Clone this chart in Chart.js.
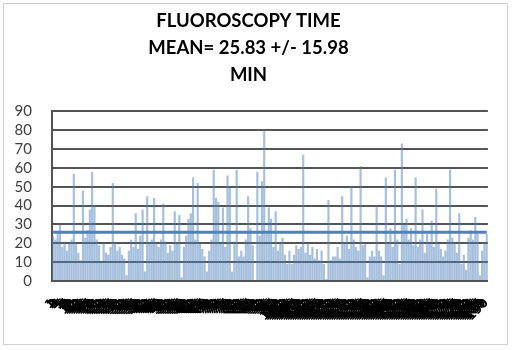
<!DOCTYPE html>
<html>
<head>
<meta charset="utf-8">
<script src="https://cdn.jsdelivr.net/npm/chart.js@4"></script>
<style>
  html, body { margin: 0; padding: 0; background: #fff; }
  #wrap { width: 512px; height: 350px; }
</style>
</head>
<body>
<div id="wrap"><canvas id="fluoroChart" width="512" height="350"></canvas></div>
<script>
// Fluoroscopy time per case (minutes)
const titleLines = ['FLUOROSCOPY TIME', 'MEAN= 25.83 +/- 15.98', 'MIN'];
const meanValue = 25.83;
const yTicks = [0, 10, 20, 30, 40, 50, 60, 70, 80, 90];
const fluoroTimes = [
    24, 22, 26, 30, 18, 21, 16, 20, 22, 57,
    20, 15, 11, 48, 23, 27, 38, 58, 40, 22,
    19, 10, 20, 15, 14, 18, 52, 20, 16, 18,
    14, 12, 3, 16, 22, 18, 36, 17, 24, 38,
    5, 45, 20, 22, 44, 20, 18, 22, 41, 21,
    15, 19, 16, 37, 20, 35, 2, 18, 24, 33,
    36, 55, 22, 52, 20, 17, 13, 5, 16, 22,
    59, 44, 42, 20, 39, 18, 56, 50, 5, 21,
    59, 13, 16, 13, 22, 45, 28, 19, 0, 58,
    24, 53, 80, 26, 39, 33, 18, 37, 16, 20,
    23, 14, 9, 16, 9, 14, 19, 17, 18, 67,
    15, 20, 14, 18, 12, 17, 11, 16, 9, 1,
    43, 11, 13, 13, 18, 12, 45, 20, 24, 17,
    50, 22, 18, 16, 61, 19, 20, 2, 13, 16,
    13, 40, 16, 13, 3, 55, 20, 28, 18, 59,
    22, 9, 73, 30, 33, 22, 28, 19, 55, 18,
    22, 38, 15, 25, 20, 32, 18, 49, 20, 17,
    13, 16, 22, 59, 23, 20, 15, 36, 9, 14,
    6, 23, 27, 22, 34, 25, 3, 16, 20, 25
];
const caseLabels = fluoroTimes.map((v, i) => String(i + 1));

const framePlugin = {
    id: 'frame',
    beforeDraw(chart) {
        const ctx = chart.ctx;
        ctx.save();
        ctx.fillStyle = '#ffffff';
        ctx.fillRect(0, 0, chart.width, chart.height);
        ctx.strokeStyle = '#d0d0d0';
        ctx.lineWidth = 1;
        ctx.strokeRect(3.5, 3.5, 504, 341);
        ctx.restore();
    }
};

document.addEventListener('DOMContentLoaded', function() {
    const ctx = document.getElementById('fluoroChart').getContext('2d');

    new Chart(ctx, {
        data: {
            labels: caseLabels,
            datasets: [{
                type: 'line',
                data: caseLabels.map(() => meanValue),
                borderColor: '#4f81bd',
                borderWidth: 3,
                pointRadius: 0,
                order: 0
            }, {
                type: 'bar',
                data: fluoroTimes,
                backgroundColor: 'rgba(79, 129, 189, 0.5)',
                borderWidth: 0,
                barPercentage: 1,
                categoryPercentage: 0.95,
                order: 1
            }]
        },
        options: {
            responsive: false,
            animation: false,
            layout: { padding: { left: 8, right: 23, top: 0, bottom: 0 } },
            plugins: {
                legend: { display: false },
                tooltip: { enabled: false },
                title: {
                    display: true,
                    text: titleLines,
                    color: '#000',
                    font: { family: 'Lato', size: 18.5, weight: 'bold', lineHeight: 1.45 },
                    padding: { top: 8, bottom: 23 }
                }
            },
            scales: {
                x: {
                    grid: { display: false, drawTicks: false },
                    border: { display: true, color: '#555', width: 2 },
                    ticks: {
                        autoSkip: false,
                        minRotation: 45,
                        maxRotation: 45,
                        padding: 15,
                        color: '#000',
                        font: { family: 'DejaVu Sans', size: 12, weight: 'bold' }
                    },
                    afterFit: function(scale) { scale.height = 69; }
                },
                y: {
                    min: 0,
                    max: 90,
                    afterBuildTicks: function(scale) {
                        scale.ticks = yTicks.map(v => ({ value: v }));
                    },
                    grid: { color: '#555', lineWidth: 2, drawTicks: false },
                    border: { display: true, color: '#555', width: 2 },
                    ticks: {
                        autoSkip: false,
                        padding: 20,
                        color: '#404040',
                        font: { family: 'Lato', size: 15 }
                    },
                    afterFit: function(scale) { scale.width = 44; }
                }
            }
        },
        plugins: [framePlugin]
    });
});
</script>
</body>
</html>
